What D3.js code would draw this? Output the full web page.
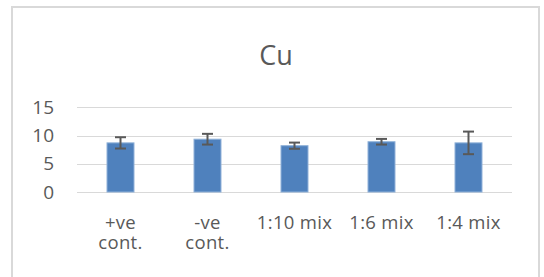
<!DOCTYPE html>
<html lang="en">
<head>
<meta charset="utf-8">
<style type="text/css">
    body { margin: 0; background: #fff; }
    text { font-family: "Open Sans", sans-serif; fill: #595959; }
    .grid line { stroke: #d9d9d9; stroke-width: 1px; }
</style>
</head>
<body>
<svg width="544" height="277"></svg>
<script src="https://d3js.org/d3.v7.min.js"></script>
<script type="text/javascript">

var categories = [["+ve", "cont."], ["-ve", "cont."], ["1:10 mix"], ["1:6 mix"], ["1:4 mix"]];
var values = [8.7, 9.35, 8.2, 8.9, 8.7];
var errors = [1.0, 0.95, 0.55, 0.5, 2.0];
var yTicks = [0, 5, 10, 15];

var svg = d3.select("svg"),
    width = +svg.attr("width"),
    height = +svg.attr("height");

// chart frame
svg.append("rect")
    .attr("x", 12).attr("y", 7)
    .attr("width", 527).attr("height", 290)
    .attr("fill", "none")
    .attr("stroke", "#d9d9d9")
    .attr("stroke-width", 2);

svg.append("text")
    .attr("x", 276).attr("y", 65)
    .attr("text-anchor", "middle")
    .attr("font-size", "27px")
    .text("Cu");

var x = d3.scaleBand()
    .domain(d3.range(categories.length))
    .range([77, 512])
    .paddingInner(0.69)
    .paddingOuter(0.345);

var y = d3.scaleLinear().domain([0, 15]).range([192, 107.3]);

var grid = svg.append("g").attr("class", "grid");
grid.selectAll("line")
    .data(yTicks)
    .enter().append("line")
    .attr("x1", 77).attr("x2", 512)
    .attr("y1", function (d) { return Math.round(y(d)) + 0.5; })
    .attr("y2", function (d) { return Math.round(y(d)) + 0.5; });

var yAxis = svg.append("g")
    .attr("transform", "translate(54,0)")
    .call(d3.axisLeft(y).tickValues(yTicks).tickSize(0).tickPadding(0));
yAxis.select(".domain").remove();
yAxis.selectAll("text")
    .attr("font-size", "19px")
    .attr("font-family", "Open Sans")
    .attr("fill", "#595959");

svg.selectAll(".bar")
    .data(values)
    .enter().append("rect")
    .attr("class", "bar")
    .attr("x", function (d, i) { return x(i); })
    .attr("y", function (d) { return y(d); })
    .attr("width", x.bandwidth())
    .attr("height", function (d) { return y(0) - y(d); })
    .attr("fill", "#4f81bd")
    .attr("stroke", "#8eb0d8")
    .attr("stroke-width", 1);

var err = svg.selectAll(".err")
    .data(values)
    .enter().append("g")
    .attr("class", "err")
    .attr("stroke", "#595959")
    .attr("stroke-width", 2);

err.append("line")
    .attr("x1", function (d, i) { return x(i) + x.bandwidth() / 2; })
    .attr("x2", function (d, i) { return x(i) + x.bandwidth() / 2; })
    .attr("y1", function (d, i) { return y(d + errors[i]); })
    .attr("y2", function (d, i) { return y(d - errors[i]); });

[1, -1].forEach(function (s) {
    err.append("line")
        .attr("x1", function (d, i) { return x(i) + x.bandwidth() / 2 - 5.5; })
        .attr("x2", function (d, i) { return x(i) + x.bandwidth() / 2 + 5.5; })
        .attr("y1", function (d, i) { return y(d + s * errors[i]); })
        .attr("y2", function (d, i) { return y(d + s * errors[i]); });
});

// x labels, one text per wrapped line
categories.forEach(function (lines, i) {
    svg.selectAll(".xlab" + i)
        .data(lines)
        .enter().append("text")
        .attr("class", "xlab" + i)
        .attr("text-anchor", "middle")
        .attr("font-size", "18.5px")
        .attr("letter-spacing", "0.3px")
        .attr("x", x(i) + x.bandwidth() / 2)
        .attr("y", function (d, j) { return 229 + j * 20; })
        .text(function (d) { return d; });
});

</script>
</body>
</html>
